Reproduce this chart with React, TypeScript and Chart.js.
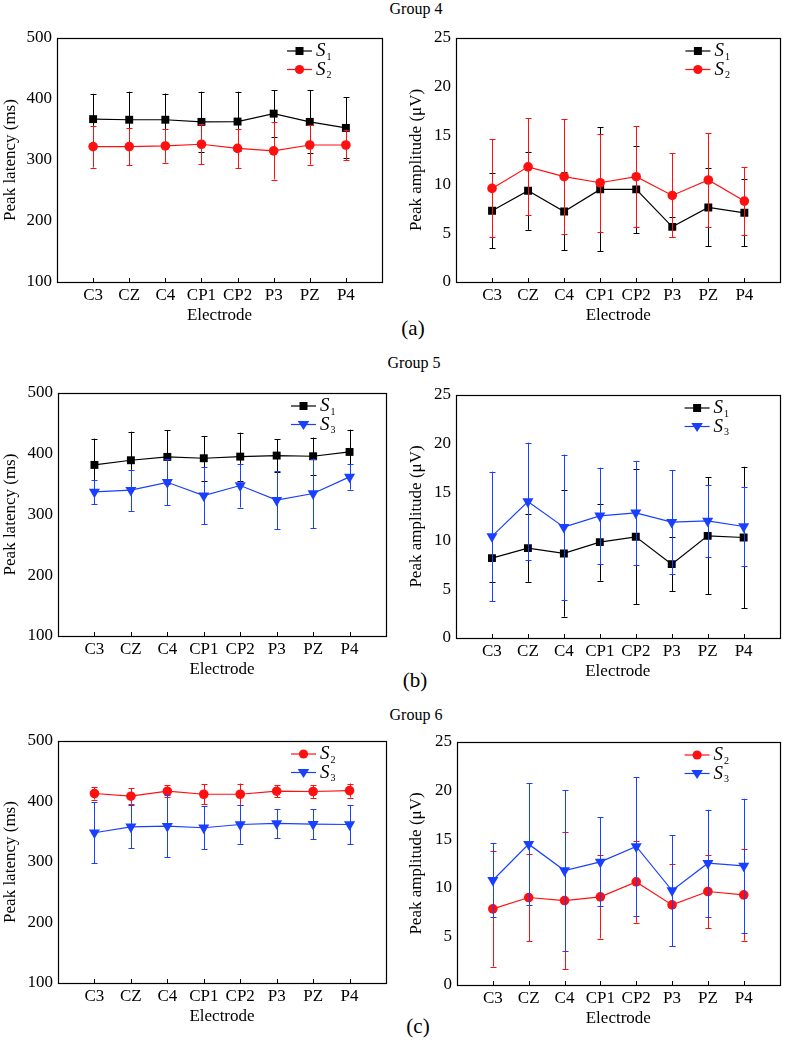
import React, { useEffect, useRef } from 'react';
import { Chart, registerables } from 'chart.js';
Chart.register(...registerables);

const electrodes = ['C3', 'CZ', 'C4', 'CP1', 'CP2', 'P3', 'PZ', 'P4'];
const latencyRange = [100, 500];
const latencyStep = 100;
const amplitudeRange = [0, 25];
const amplitudeStep = 5;

// Group 4
const g4LatS1 = [367, 366, 366, 362.5, 363, 376, 362.5, 352.6];
const g4LatS1Err = [41.5, 46, 43, 49.5, 49, 38, 51.5, 50];
const g4LatS2 = [322, 322, 323, 325.8, 319, 315, 324.6, 324.6];
const g4LatS2Err = [34.5, 30.5, 27.5, 32.5, 32, 47, 32, 25];
const g4AmpS1 = [7.3, 9.35, 7.23, 9.49, 9.49, 5.65, 7.64, 7.09];
const g4AmpS1Err = [3.85, 4.0, 4.0, 6.35, 4.47, 1.03, 4.0, 3.42];
const g4AmpS2 = [9.59, 11.8, 10.79, 10.17, 10.79, 8.87, 10.45, 8.29];
const g4AmpS2Err = [5.03, 4.98, 5.89, 5.0, 5.2, 4.31, 4.79, 3.46];
// Group 5
const g5LatS1 = [381.6, 389.3, 394.8, 392.6, 395.3, 397, 395.9, 403];
const g5LatS1Err = [43.4, 47, 43.8, 36.7, 39.5, 27.4, 30.7, 36.7];
const g5LatS3 = [337.3, 340, 353, 331, 347.7, 323.6, 334.5, 362];
const g5LatS3Err = [20.3, 34, 37.7, 47, 36.2, 47.6, 57, 21];
const g5AmpS1 = [8.22, 9.25, 8.7, 9.86, 10.41, 7.6, 10.51, 10.34];
const g5AmpS1Err = [2.47, 3.47, 6.5, 3.97, 6.95, 2.78, 6.03, 7.28];
const g5AmpS3 = [10.45, 14.04, 11.4, 12.57, 12.88, 11.92, 12.05, 11.47];
const g5AmpS3Err = [6.67, 6.06, 7.47, 4.96, 5.34, 5.34, 3.67, 4.11];
// Group 6
const g6LatS2 = [413.2, 408.8, 417, 412, 412, 417, 416.5, 418];
const g6LatS2Err = [10, 12.8, 10, 16.2, 17.7, 10, 10.5, 11.7];
const g6LatS3 = [348.4, 358.2, 359.3, 356.6, 362, 363.7, 362.6, 362];
const g6LatS3Err = [50.6, 35.7, 51.1, 35.2, 31.8, 24.1, 24.7, 32.3];
const g6AmpS2 = [7.83, 9.0, 8.69, 9.07, 10.61, 8.24, 9.62, 9.27];
const g6AmpS2Err = [5.94, 4.47, 7.04, 4.3, 4.2, 4.23, 3.8, 4.7];
const g6AmpS3 = [10.78, 14.49, 11.78, 12.67, 14.25, 9.72, 12.53, 12.26];
const g6AmpS3Err = [3.82, 6.29, 8.24, 4.57, 7.11, 5.7, 5.5, 6.9];

const FONT = '"Liberation Serif", "Times New Roman", serif';
const BLACK = '#000000';
const RED = '#ff1010';
const BLUE = '#1a40ff';
const TICK_SIZE = 17;

const S1 = { name: '1', color: BLACK, style: 'rect' };
const S2 = { name: '2', color: RED, style: 'circle' };
const S3 = { name: '3', color: BLUE, style: 'down' };

function drawMarker(ctx: CanvasRenderingContext2D, style: string, x: number, y: number, color: string) {
  ctx.save();
  ctx.fillStyle = color;
  ctx.beginPath();
  if (style === 'rect') ctx.rect(x - 4, y - 4, 8, 8);
  else if (style === 'circle') ctx.arc(x, y, 4.6, 0, Math.PI * 2);
  else {
    ctx.moveTo(x - 5.8, y - 3.5);
    ctx.lineTo(x + 5.8, y - 3.5);
    ctx.lineTo(x, y + 5.5);
    ctx.closePath();
  }
  ctx.fill();
  ctx.restore();
}

const decorPlugin = {
  id: 'decor',
  beforeDatasetDraw(chart: any, args: any) {
    const ds = chart.data.datasets[args.index];
    const errs: number[] = ds.errs;
    const vals: number[] = ds.vals;
    if (!errs) return;
    const xs = chart.scales.x;
    const ys = chart.scales.y;
    const ctx = chart.ctx;
    ctx.save();
    ctx.strokeStyle = ds.borderColor;
    ctx.lineWidth = 1;
    vals.forEach((v, i) => {
      const x = Math.round(xs.getPixelForValue(i)) + 0.5;
      const y1 = ys.getPixelForValue(v + errs[i]);
      const y2 = ys.getPixelForValue(v - errs[i]);
      ctx.beginPath();
      ctx.moveTo(x, y1);
      ctx.lineTo(x, y2);
      ctx.moveTo(x - 3, Math.round(y1) + 0.5);
      ctx.lineTo(x + 3, Math.round(y1) + 0.5);
      ctx.moveTo(x - 3, Math.round(y2) + 0.5);
      ctx.lineTo(x + 3, Math.round(y2) + 0.5);
      ctx.stroke();
    });
    ctx.restore();
  },
  afterDraw(chart: any) {
    const { ctx, chartArea } = chart;
    const { left, top, right, bottom } = chartArea;
    ctx.save();
    ctx.strokeStyle = '#000';
    ctx.lineWidth = 1.2;
    ctx.strokeRect(Math.round(left) + 0.5, Math.round(top) + 0.5, Math.round(right - left), Math.round(bottom - top));
    // inward x ticks
    const xs = chart.scales.x;
    ctx.lineWidth = 1;
    ctx.beginPath();
    electrodes.forEach((_, i) => {
      const x = Math.round(xs.getPixelForValue(i)) + 0.5;
      ctx.moveTo(x, bottom);
      ctx.lineTo(x, bottom - 4);
    });
    ctx.stroke();
    // legend
    const series = chart.options.plugins.decor.series;
    series.forEach((s: any, k: number) => {
      const y = top + 13 + k * 18.5;
      const x0 = right - 95;
      const x1 = right - 70;
      ctx.strokeStyle = s.color;
      ctx.lineWidth = 1.2;
      ctx.beginPath();
      ctx.moveTo(x0, y);
      ctx.lineTo(x1, y);
      ctx.stroke();
      drawMarker(ctx, s.style, (x0 + x1) / 2, y, s.color);
      ctx.fillStyle = '#000';
      ctx.textBaseline = 'middle';
      ctx.textAlign = 'left';
      ctx.font = `italic 19px ${FONT}`;
      const tx = right - 66;
      ctx.fillText('S', tx, y);
      const w = ctx.measureText('S').width;
      ctx.font = `10px ${FONT}`;
      ctx.fillText(s.name, tx + w + 1, y + 6);
    });
    ctx.restore();
  },
};

type Series = { name: string; color: string; style: string };

type PanelProps = {
  canvasLeft: number;
  canvasWidth: number;
  plot: { l: number; t: number; r: number; b: number };
  range: number[];
  step: number;
  yTitle: string;
  series: Series[];
  values: number[][];
  errors: number[][];
};

function Panel(p: PanelProps) {
  const ref = useRef<HTMLCanvasElement>(null);
  const canvasTop = p.plot.t - 20;
  const xAxisH = 44;
  const canvasHeight = p.plot.b + xAxisH - canvasTop;
  const yAxisW = p.plot.l - p.canvasLeft;
  const padRight = p.canvasLeft + p.canvasWidth - p.plot.r;

  useEffect(() => {
    if (!ref.current) return;
    const datasets = p.series.map((s, k) => ({
      label: 'S' + s.name,
      data: p.values[k].map((v, i) => ({ x: i, y: v })),
      vals: p.values[k],
      errs: p.errors[k],
      borderColor: s.color,
      backgroundColor: s.color,
      borderWidth: 1.2,
      pointStyle: s.style === 'down' ? 'triangle' : s.style,
      pointRotation: s.style === 'down' ? 180 : 0,
      pointRadius: s.style === 'rect' ? 5.6 : s.style === 'circle' ? 4.8 : 6.4,
      pointBorderWidth: 0,
      order: k === 0 ? 1 : 0,
      tension: 0,
    }));
    const chart = new Chart(ref.current, {
      type: 'line',
      data: { datasets },
      options: {
        responsive: false,
        animation: false,
        events: [],
        layout: { padding: { top: 20, right: padRight, left: 0, bottom: 0 } },
        plugins: {
          legend: { display: false },
          tooltip: { enabled: false },
          decor: { series: p.series },
        } as any,
        scales: {
          x: {
            type: 'linear',
            min: -1,
            max: 8,
            afterBuildTicks: (s: any) => {
              s.ticks = electrodes.map((_, i) => ({ value: i }));
            },
            afterFit: (s: any) => {
              s.height = xAxisH;
            },
            grid: { display: false, drawTicks: false },
            border: { display: false },
            ticks: {
              autoSkip: false,
              maxRotation: 0,
              padding: 3,
              color: '#000',
              font: { family: FONT, size: TICK_SIZE },
              callback: (v: any) => electrodes[v] ?? '',
            },
            title: {
              display: true,
              text: 'Electrode',
              color: '#000',
              font: { family: FONT, size: TICK_SIZE },
              padding: { top: 0, bottom: 0 },
            },
          },
          y: {
            type: 'linear',
            min: p.range[0],
            max: p.range[1],
            afterFit: (s: any) => {
              s.width = yAxisW;
            },
            grid: { display: false, drawTicks: false },
            border: { display: false },
            ticks: {
              stepSize: p.step,
              padding: 5,
              color: '#000',
              font: { family: FONT, size: TICK_SIZE },
            },
            title: {
              display: true,
              text: p.yTitle,
              color: '#000',
              font: { family: FONT, size: TICK_SIZE },
              padding: { top: 0, bottom: 0 },
            },
          },
        },
      } as any,
      plugins: [decorPlugin as any],
    });
    return () => chart.destroy();
  }, []);

  return (
    <canvas
      ref={ref}
      width={p.canvasWidth}
      height={canvasHeight}
      style={{
        position: 'absolute',
        left: p.canvasLeft,
        top: canvasTop,
        width: p.canvasWidth,
        height: canvasHeight,
      }}
    />
  );
}

const LEFT = { canvasLeft: 0, canvasWidth: 393 };
const RIGHT = { canvasLeft: 406, canvasWidth: 380 };
const LAT_TITLE = 'Peak latency (ms)';
const AMP_TITLE = 'Peak amplitude (\u03bcV)';

function Label(props: { text: string; cx: number; cy: number; size: number }) {
  const lh = Math.round(props.size * 1.2);
  return (
    <div
      style={{
        position: 'absolute',
        left: props.cx - 100,
        width: 200,
        top: props.cy - lh / 2,
        lineHeight: lh + 'px',
        fontSize: props.size,
        fontFamily: FONT,
        textAlign: 'center',
        color: '#000',
        whiteSpace: 'nowrap',
      }}
    >
      {props.text}
    </div>
  );
}

export default function App() {
  return (
    <div style={{ position: 'absolute', left: 0, top: 0, width: 786, height: 1042, background: '#fff', overflow: 'hidden' }}>
      <Label text="Group 4" cx={416} cy={8} size={16} />
      <Label text="Group 5" cx={414} cy={362} size={16} />
      <Label text="Group 6" cx={416} cy={714} size={16} />
      <Label text="(a)" cx={413} cy={328} size={21} />
      <Label text="(b)" cx={415} cy={680} size={21} />
      <Label text="(c)" cx={418} cy={1026} size={21} />

      <Panel {...LEFT} plot={{ l: 57, t: 38, r: 382, b: 282 }} range={latencyRange} step={latencyStep} yTitle={LAT_TITLE}
        series={[S1, S2]} values={[g4LatS1, g4LatS2]} errors={[g4LatS1Err, g4LatS2Err]} />
      <Panel {...RIGHT} plot={{ l: 456, t: 38, r: 782, b: 282 }} range={amplitudeRange} step={amplitudeStep} yTitle={AMP_TITLE}
        series={[S1, S2]} values={[g4AmpS1, g4AmpS2]} errors={[g4AmpS1Err, g4AmpS2Err]} />

      <Panel {...LEFT} plot={{ l: 58, t: 393, r: 386, b: 636 }} range={latencyRange} step={latencyStep} yTitle={LAT_TITLE}
        series={[S1, S3]} values={[g5LatS1, g5LatS3]} errors={[g5LatS1Err, g5LatS3Err]} />
      <Panel {...RIGHT} plot={{ l: 456, t: 395, r: 784, b: 638 }} range={amplitudeRange} step={amplitudeStep} yTitle={AMP_TITLE}
        series={[S1, S3]} values={[g5AmpS1, g5AmpS3]} errors={[g5AmpS1Err, g5AmpS3Err]} />

      <Panel {...LEFT} plot={{ l: 58, t: 741, r: 386, b: 983 }} range={latencyRange} step={latencyStep} yTitle={LAT_TITLE}
        series={[S2, S3]} values={[g6LatS2, g6LatS3]} errors={[g6LatS2Err, g6LatS3Err]} />
      <Panel {...RIGHT} plot={{ l: 457, t: 742, r: 784, b: 985 }} range={amplitudeRange} step={amplitudeStep} yTitle={AMP_TITLE}
        series={[S2, S3]} values={[g6AmpS2, g6AmpS3]} errors={[g6AmpS2Err, g6AmpS3Err]} />
    </div>
  );
}
